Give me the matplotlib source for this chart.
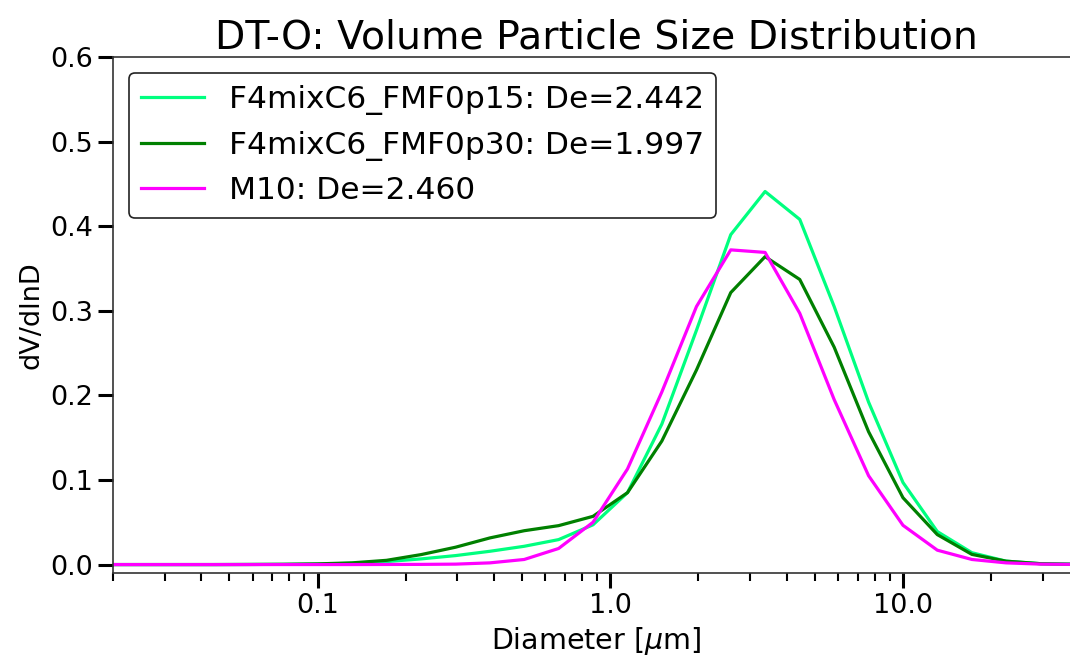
import numpy as np
import matplotlib.pyplot as plt
from matplotlib.ticker import FormatStrFormatter, LogLocator

# Размеры частиц [мкм] и объемные распределения dV/dlnD
diameter = [0.0197, 0.0258, 0.0339, 0.0444, 0.0582, 0.0763, 0.1, 0.131, 0.172,
            0.226, 0.296, 0.388, 0.508, 0.666, 0.873, 1.145, 1.50, 1.97, 2.58,
            3.38, 4.44, 5.82, 7.63, 10.0, 13.1, 17.2, 22.5, 29.6, 38.8]

fmf015 = [0.0, 0.0, 0.0, 0.0, 0.0001, 0.0002, 0.0005, 0.0015, 0.0035,
          0.0067, 0.0106, 0.0157, 0.0216, 0.0295, 0.047, 0.085, 0.166, 0.277, 0.390,
          0.441, 0.408, 0.305, 0.192, 0.097, 0.039, 0.014, 0.004, 0.001, 0.0005]

fmf030 = [0.0, 0.0, 0.0, 0.0, 0.0001, 0.0003, 0.0008, 0.002, 0.005,
          0.0118, 0.0205, 0.0315, 0.040, 0.046, 0.057, 0.085, 0.146, 0.230, 0.3215,
          0.364, 0.337, 0.257, 0.157, 0.079, 0.0354, 0.012, 0.004, 0.001, 0.0003]

m10 = [0.0, 0.0, 0.0, 0.0, 0.0, 0.0, 0.0, 0.0, 0.0001,
       0.0002, 0.0005, 0.002, 0.006, 0.019, 0.050, 0.113, 0.204, 0.305, 0.372,
       0.369, 0.297, 0.195, 0.105, 0.0464, 0.017, 0.006, 0.002, 0.0005, 0.0002]

labels = ['F4mixC6_FMF0p15: De=2.442',
          'F4mixC6_FMF0p30: De=1.997',
          'M10: De=2.460']
colors = ['springgreen', 'green', 'magenta']

fig = plt.figure(figsize=(10.7, 6.56), dpi=100)
ax = fig.add_axes([0.1056, 0.1265, 0.903, 0.7866])

for y, lab, c in zip([fmf015, fmf030, m10], labels, colors):
    ax.plot(diameter, y, color=c, lw=2.3, label=lab)

ax.set_xscale('log')
ax.set_xlim(0.02, 40)
ax.set_ylim(-0.01, 0.6)
ax.set_yticks(np.arange(0, 0.61, 0.1))
ax.yaxis.set_major_formatter(FormatStrFormatter('%.1f'))
ax.xaxis.set_major_formatter(FormatStrFormatter('%.1f'))
ax.xaxis.set_minor_locator(LogLocator(base=10, subs=np.arange(2, 10)))

ax.tick_params(which='major', length=11, width=2.2, labelsize=19.5)
ax.tick_params(which='minor', length=5.5, width=1.5)
for s in ax.spines.values():
    s.set_color('#333333')
    s.set_linewidth(1.2)

ax.set_title('DT-O: Volume Particle Size Distribution', fontsize=28.4)
ax.set_xlabel(r'Diameter [$\mu$m]', fontsize=20.5)
ax.set_ylabel('dV/dlnD', fontsize=19.5)
leg = ax.legend(loc='upper left', fontsize=22.5, edgecolor='#222222', framealpha=1)
leg.get_frame().set_linewidth(1.2)

fig.savefig('out.png', dpi=100)
